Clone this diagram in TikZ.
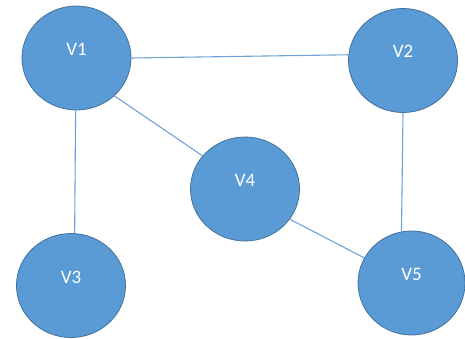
\documentclass[tikz,border=0pt]{standalone}
\usepackage{fontspec}
\setmainfont{Carlito}
\usetikzlibrary{shapes.geometric}
\definecolor{vfill}{HTML}{5B9BD5}
\definecolor{vline}{HTML}{41719C}
\definecolor{eline}{HTML}{6FA3D8}
\tikzset{
  vertex/.style={ellipse, draw=vline, line width=0.8pt, fill=vfill, inner sep=0pt,
    minimum width=109pt, minimum height=104pt, text=white,
    font=\fontsize{19}{22}\selectfont},
  edge/.style={draw=eline, line width=1.1pt}
}
\newcommand{\vlab}[1]{\smash{\raisebox{2.5pt}{#1}}}
\begin{document}
\begin{tikzpicture}[x=1pt,y=-1pt]
\useasboundingbox (0,0) rectangle (465,339);
\node[vertex] (V1) at (76.5,58) {\vlab{V1}};
\node[vertex] (V2) at (403,60.5) {\vlab{V2}};
\node[vertex] (V3) at (71,285.5) {\vlab{V3}};
\node[vertex] (V4) at (245,189) {\vlab{V4}};
\node[vertex, minimum width=107pt] (V5) at (411.5,283) {\vlab{V5}};
\draw[edge] (V1.0) -- (V2.174);
\draw[edge] (V1.-91) -- (V3.86);
\draw[edge] (V2.-90) -- (V5.101);
\draw[edge] (V1.-45) -- (V4.142);
\draw[edge] (V4.-34) -- (V5.152);
\end{tikzpicture}
\end{document}
